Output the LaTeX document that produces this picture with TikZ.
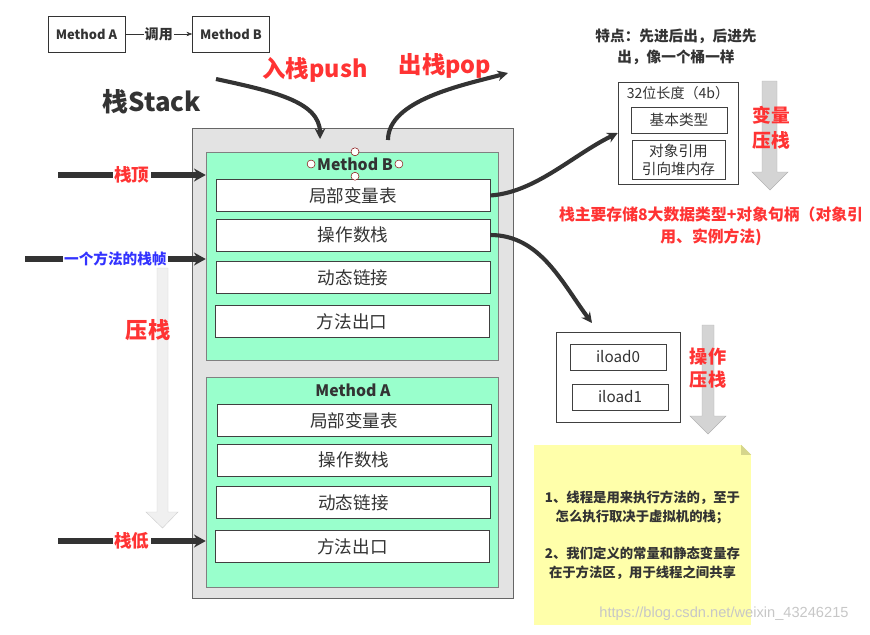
\documentclass[tikz,border=0pt]{standalone}
\usepackage{fontspec}
\setmainfont{Noto Sans CJK SC}
\newfontfamily\markfont{Liberation Sans}
\usetikzlibrary{positioning, arrows.meta}
\definecolor{frameGreen}{RGB}{153,255,204}
\definecolor{stackGray}{RGB}{227,227,227}
\definecolor{markRed}{RGB}{255,51,51}
\definecolor{markBlue}{RGB}{51,51,255}
\definecolor{inkDark}{RGB}{51,51,51}
\definecolor{noteYellow}{RGB}{255,255,170}
\definecolor{noteFold}{RGB}{214,214,140}

\begin{document}
\begin{tikzpicture}[
    x=0.03cm, y=-0.03cm,
    call box/.style={
      rectangle,
      draw=inkDark,
      fill=white,
      minimum width=2.31cm,
      minimum height=1.08cm,
      inner sep=0pt,
      text=inkDark,
      font=\fontsize{11}{13}\selectfont\bfseries
    },
    stack box/.style={
      draw=black!60,
      fill=stackGray,
      minimum width=9.63cm,
      minimum height=14.1cm,
      inner sep=0pt
    },
    frame box/.style={
      draw=black!50,
      fill=frameGreen,
      minimum width=8.76cm,
      minimum height=6.24cm,
      inner sep=0pt
    },
    frame title/.style={
      text=inkDark,
      inner xsep=5pt,
      inner ysep=1pt,
      minimum height=0.72cm,
      font=\fontsize{13.5}{16}\selectfont\bfseries
    },
    slot box/.style={
      draw=black!75,
      fill=white,
      minimum width=8.22cm,
      minimum height=0.96cm,
      inner sep=0pt,
      text=inkDark,
      font=\fontsize{15}{18}\selectfont
    },
    side box/.style={
      draw=black!75,
      fill=white,
      inner sep=0pt,
      align=center,
      text=inkDark,
      font=\fontsize{12.5}{15.5}\selectfont
    },
    handle/.style={
      draw=red!50!black,
      fill=white,
      thin
    },
    red mark/.style={
      text=markRed,
      align=center,
      font=\bfseries
    },
    side arrow/.style={
      -{Stealth[length=10pt, width=11pt]},
      line width=5pt,
      color=inkDark
    },
    bend arrow/.style={
      -{Stealth[length=9pt, width=9pt]},
      line width=3.5pt,
      color=inkDark
    },
    press arrow/.style={
      draw=black!30,
      fill=black!17
    }
  ]

    \useasboundingbox (0,0) rectangle (870,634);

    \node[call box] (callA) at (86.5,34) {Method A};
    \node[call box] (callB) at (231,34) {Method B};
    \draw[-{Stealth[length=5pt]}, inkDark] (callA) -- (callB)
      node[midway, fill=white, inner sep=1pt, font=\fontsize{12}{14}\selectfont\bfseries] {调用};

    \node[text=inkDark, font=\fontsize{22}{26}\selectfont\bfseries] (stackTitle) at (152,102) {栈Stack};
    \node[red mark, font=\fontsize{20}{24}\selectfont\bfseries] (pushLabel) at (315,70) {入栈push};
    \node[red mark, font=\fontsize{20}{24}\selectfont\bfseries] (popLabel) at (445,66) {出栈pop};

    \node[stack box] (stack) at (352.5,363) {};
    \node[frame box] (frameB) at (352,256) {};
    \node[frame box, minimum height=6.3cm] (frameA) at (352,482) {};

    \node[frame title] (titleB) at (355,164) {Method B};
    \node[slot box] (bLocal) at (353,195.5) {局部变量表};
    \node[slot box] (bOperand) at (353,235) {操作数栈};
    \node[slot box] (bLink) at (353,277.5) {动态链接};
    \node[slot box] (bExit) at (352,321.5) {方法出口};

    \node[frame title] (titleA) at (353,390) {Method A};
    \node[slot box] (aLocal) at (354,420.5) {局部变量表};
    \node[slot box] (aOperand) at (354,460) {操作数栈};
    \node[slot box] (aLink) at (353.5,502.5) {动态链接};
    \node[slot box] (aExit) at (352.5,546.5) {方法出口};

    \foreach \a in {north, west, east, south}
      \draw[handle] (titleB.\a) circle[radius=0.12cm];

    \coordinate (pushStart) at (216,79);
    \coordinate (pushEnd) at (320,139);
    \coordinate (popStart) at (388,140);
    \coordinate (popEnd) at (508,73);
    \draw[bend arrow] (pushStart) .. controls +(55,12) and +(0,-38) .. (pushEnd);
    \draw[bend arrow] (popStart) .. controls +(0,-40) and +(-45,12) .. (popEnd);

    \coordinate (topStart) at (58,175);
    \coordinate (frameStart) at (25,259);
    \coordinate (bottomStart) at (58,541);
    \draw[side arrow] (topStart) -- (frameB.west |- topStart)
      node[midway, fill=white, inner sep=1pt, red mark, font=\fontsize{15}{18}\selectfont\bfseries] {栈顶};
    \draw[side arrow] (frameStart) -- (frameB.west |- frameStart)
      node[midway, fill=white, inner sep=1pt, text=markBlue, font=\fontsize{12.5}{15}\selectfont\bfseries] {一个方法的栈帧};
    \draw[side arrow] (bottomStart) -- (frameA.west |- bottomStart)
      node[midway, fill=white, inner sep=1pt, red mark, font=\fontsize{15}{18}\selectfont\bfseries] {栈低};

    \draw[draw=black!18, fill=black!6] (157,268) -- (168,268) -- (168,512) -- (178,512)
      -- (162.5,528) -- (146,512) -- (157,512) -- cycle;
    \node[red mark, font=\fontsize{19}{22}\selectfont\bfseries] (pressLeft) at (148,330) {压栈};

    \node[text=inkDark, align=center, font=\fontsize{12.5}{18}\selectfont\bfseries] (traitNote) at (676,47)
      {特点：先进后出，后进先\\出，像一个桶一样};

    \node[side box, minimum width=3.6cm, minimum height=3.06cm] (varBox) at (678,133) {};
    \node[text=inkDark, font=\fontsize{12}{14}\selectfont] (varTitle) at (678,93) {32位长度（4b）};
    \node[side box, minimum width=2.88cm, minimum height=0.78cm] (varBasic) at (679,120) {基本类型};
    \node[side box, minimum width=2.79cm, minimum height=1.17cm] (varRef) at (678.5,159.5) {对象引用\\引向堆内存};

    \draw[press arrow] (762,81) -- (777,81) -- (777,172) -- (788,172) -- (770,190)
      -- (752,172) -- (762,172) -- cycle;
    \node[red mark, font=\fontsize{16}{21}\selectfont\bfseries] (pressVar) at (771,128) {变量\\压栈};

    \node[red mark, font=\fontsize{13.5}{19}\selectfont\bfseries] (storeNote) at (711,226)
      {栈主要存储8大数据类型+对象句柄（对象引\\用、实例方法)};

    \node[side box, minimum width=3.72cm, minimum height=2.7cm] (opBox) at (618,377) {};
    \node[side box, minimum width=2.88cm, minimum height=0.78cm, font=\fontsize{13}{15}\selectfont] (iloadZero) at (618,357) {iload0};
    \node[side box, minimum width=2.88cm, minimum height=0.78cm, font=\fontsize{13}{15}\selectfont] (iloadOne) at (620,397) {iload1};
    \coordinate (opIn) at (592,323);

    \draw[press arrow] (702,325) -- (714,325) -- (714,416) -- (726,416) -- (708,434)
      -- (690,416) -- (702,416) -- cycle;
    \node[red mark, font=\fontsize{15.5}{20}\selectfont\bfseries] (pressOp) at (708,368) {操作\\压栈};

    \draw[bend arrow] (bLocal.east) .. controls +(45,-3) and +(-45,22) .. (varBox.west);
    \draw[bend arrow] (bOperand.east) .. controls +(50,0) and +(-30,-40) .. (opIn);

    \node[fill=noteYellow, minimum width=6.51cm, minimum height=5.4cm, inner sep=0pt,
      align=center, text=inkDark, font=\fontsize{11.4}{16}\selectfont\bfseries] (note) at (642.5,535)
      {1、线程是用来执行方法的，至于\\怎么执行取决于虚拟机的栈；\\[16pt]
       2、我们定义的常量和静态变量存\\在于方法区，用于线程之间共享};
    \fill[white] (note.north east) -- +(-10,0) -- +(0,10) -- cycle;
    \fill[noteFold] (note.north east) ++(-10,0) -- +(10,10) -- +(0,10) -- cycle;

    \node[text=black!22, font=\markfont\fontsize{12.5}{15}\selectfont] (mark) at (724,614)
      {https://blog.csdn.net/weixin\_43246215};

  \end{tikzpicture}
\end{document}
